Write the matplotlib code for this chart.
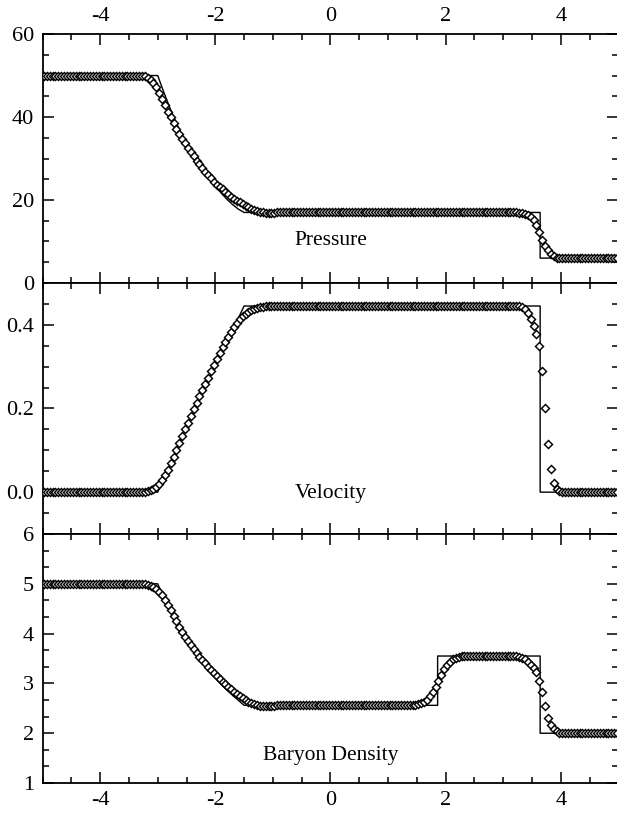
import matplotlib
matplotlib.use("Agg")
import matplotlib.pyplot as plt
import numpy as np
from matplotlib.ticker import MultipleLocator, AutoMinorLocator, FormatStrFormatter

plt.rcParams["font.family"] = ["Liberation Serif", "DejaVu Serif"]
plt.rcParams["axes.unicode_minus"] = False

# numerical solution: cell centres every 0.05 from -4.975 to 4.975
x_cells = np.linspace(-4.975, 4.975, 200)

pressure_num = (
    [50.0] * 34
    + [49.9, 49.8, 49.5, 49.0, 48.3, 47.2, 45.8, 44.3, 42.8, 41.3,
       39.9, 38.5, 37.2, 36.0, 34.8, 33.7, 32.6, 31.5, 30.5, 29.5,
       28.6, 27.7, 26.8, 26.0, 25.2, 24.4, 23.7, 23.1, 22.6, 22.0,
       21.4, 20.8, 20.3, 19.8, 19.4, 19.0, 18.6, 18.2, 17.9, 17.6,
       17.4, 17.2, 17.05, 16.95, 16.9, 16.9, 16.95]
    + [17.0] * 84
    + [16.9, 16.8, 16.6, 16.4, 15.9, 15.2, 14.0, 12.2, 10.3, 9.0,
       8.0, 7.0, 6.4, 6.1, 6.0]
    + [6.0] * 20
)

velocity_num = (
    [0.0] * 34
    + [0.000, 0.001, 0.002, 0.004, 0.007, 0.012, 0.019, 0.028, 0.040, 0.054,
       0.069, 0.085, 0.101, 0.118, 0.134, 0.150, 0.166, 0.182, 0.198, 0.214,
       0.229, 0.244, 0.259, 0.274, 0.289, 0.304, 0.318, 0.332, 0.346, 0.359,
       0.372, 0.384, 0.395, 0.405, 0.413, 0.420, 0.426, 0.431, 0.435, 0.438,
       0.440, 0.442, 0.443, 0.444, 0.444, 0.445, 0.445]
    + [0.445] * 84
    + [0.444, 0.442, 0.438, 0.428, 0.414, 0.398, 0.377, 0.350, 0.290, 0.200,
       0.114, 0.055, 0.021, 0.007, 0.002]
    + [0.0] * 20
)

density_num = (
    [5.0] * 34
    + [5.0, 4.99, 4.98, 4.96, 4.93, 4.89, 4.84, 4.77, 4.68, 4.58,
       4.47, 4.36, 4.25, 4.14, 4.04, 3.94, 3.85, 3.77, 3.69, 3.61,
       3.54, 3.47, 3.40, 3.33, 3.27, 3.21, 3.15, 3.09, 3.03, 2.98,
       2.93, 2.88, 2.83, 2.78, 2.74, 2.70, 2.66, 2.63, 2.60, 2.58,
       2.565, 2.555, 2.55, 2.545, 2.545, 2.55, 2.555]
    + [2.56] * 48
    + [2.57, 2.58, 2.60, 2.63, 2.67, 2.74, 2.82, 2.93, 3.05, 3.17,
       3.28, 3.37, 3.44, 3.49, 3.52, 3.535, 3.545]
    + [3.55] * 19
    + [3.54, 3.52, 3.49, 3.44, 3.37, 3.30, 3.22, 3.05, 2.82, 2.55,
       2.30, 2.16, 2.08, 2.04, 2.01]
    + [2.0] * 20
)

# exact solution
x_fan = [-3.0, -2.9, -2.8, -2.7, -2.6, -2.5, -2.4, -2.3, -2.2, -2.1,
         -2.0, -1.9, -1.8, -1.7, -1.6, -1.5]
p_fan = [50.0, 46.2, 42.6, 39.3, 36.2, 33.4, 30.9, 28.7, 26.7, 24.9,
         23.3, 21.7, 20.2, 18.9, 17.8, 17.0]
v_fan = [0.0, 0.031, 0.062, 0.093, 0.124, 0.155, 0.185, 0.215, 0.245, 0.274,
         0.303, 0.331, 0.359, 0.387, 0.416, 0.445]
d_fan = [5.0, 4.74, 4.50, 4.28, 4.07, 3.88, 3.70, 3.53, 3.38, 3.24,
         3.11, 2.98, 2.87, 2.76, 2.66, 2.56]
x_contact = 1.86
x_shock = 3.64

x_exact_pv = [-5.0] + x_fan + [x_shock, x_shock, 5.0]
p_exact = [50.0] + p_fan + [17.0, 6.0, 6.0]
v_exact = [0.0] + v_fan + [0.445, 0.0, 0.0]
x_exact_d = [-5.0] + x_fan + [x_contact, x_contact, x_shock, x_shock, 5.0]
d_exact = [5.0] + d_fan + [2.56, 3.55, 3.55, 2.0, 2.0]

fig = plt.figure(figsize=(6.17, 8.16), dpi=100)
left, width = 0.0689, 0.9335
ax1 = fig.add_axes([left, 0.6532, width, 0.3051])
ax2 = fig.add_axes([left, 0.3456, width, 0.3076])
ax3 = fig.add_axes([left, 0.0404, width, 0.3052])

panels = [
    (ax1, x_exact_pv, p_exact, pressure_num, (0, 60), 20, 4, "Pressure", 9.2, "%d"),
    (ax2, x_exact_pv, v_exact, velocity_num, (-0.1, 0.5), 0.2, 4, "Velocity", -0.014, "%.1f"),
    (ax3, x_exact_d, d_exact, density_num, (1, 6), 1, 3, "Baryon Density", 1.46, "%d"),
]

for ax, xe, ye, yn, ylim, major, nminor, label, ly, fmt in panels:
    ax.plot(xe, ye, color="black", lw=1.0, zorder=2)
    ax.plot(x_cells, yn, ls="none", marker="D", ms=4.4, mfc="white",
            mec="black", mew=1.05, zorder=3)
    ax.set_xlim(-5, 5)
    ax.set_ylim(*ylim)
    ax.xaxis.set_major_locator(MultipleLocator(2))
    ax.xaxis.set_minor_locator(AutoMinorLocator(4))
    ax.yaxis.set_major_locator(MultipleLocator(major))
    ax.yaxis.set_minor_locator(AutoMinorLocator(nminor))
    ax.yaxis.set_major_formatter(FormatStrFormatter(fmt))
    ax.tick_params(which="both", direction="in", top=True, right=True,
                   labelsize=16, width=1.1, pad=6)
    ax.tick_params(which="major", length=8)
    ax.tick_params(which="minor", length=4)
    ax.tick_params(axis="x", labelbottom=False, labeltop=False)
    for s in ax.spines.values():
        s.set_linewidth(1.3)
    ax.text(0, ly, label, ha="center", va="baseline", fontsize=15.5)

ax1.tick_params(axis="x", labeltop=True)
ax3.tick_params(axis="x", labelbottom=True)

fig.savefig("out.png", dpi=100)
